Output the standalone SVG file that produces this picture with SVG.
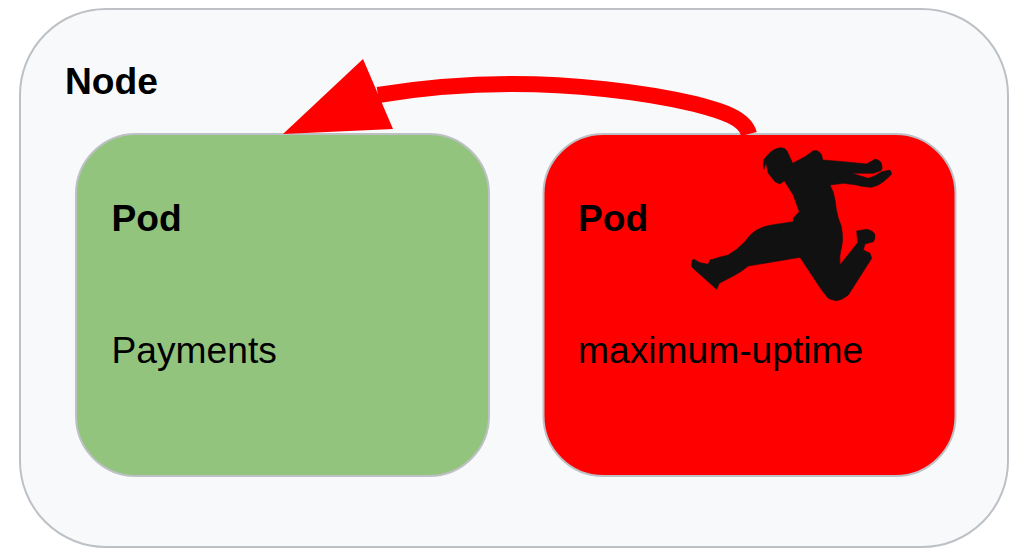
<svg xmlns="http://www.w3.org/2000/svg" width="1012" height="548" viewBox="0 0 1012 548">
<style>
text{font-family:"Liberation Sans",Arial,sans-serif;font-size:37.2px;fill:#000}
.b{font-weight:700}
.box{stroke:#bdc1c6;stroke-width:2}
</style>
<rect width="1012" height="548" fill="#fff"/>
<g id="node"><rect class="box" x="20" y="9" width="988" height="538" rx="86" ry="86" fill="#f8f9fa"/><text class="b" x="65" y="94">Node</text></g>
<g id="pod-payments"><rect class="box" x="76" y="134" width="413" height="342" rx="60" ry="60" fill="#93c47d"/><text class="b" x="111.500" y="231">Pod</text><text x="111.500" y="363">Payments</text></g>
<g id="pod-maximum-uptime"><rect class="box" x="543.500" y="134" width="412" height="342" rx="60" ry="60" fill="#f00"/><text class="b" x="578" y="231">Pod</text><text x="578" y="363">maximum-uptime</text>
<path id="jumper" fill="#111" stroke="#111" stroke-width=".6" stroke-linejoin="round" d="M764,169.300Q762,160 766,157Q772,149 780,147.700Q785,147.500 787,151L792.700,163.300L805,156.700L813,151Q818,149 821.700,155L822.700,160L843.300,161.700L866.700,164L875,159.300Q881,160 881.700,165Q883,169 880.700,170.700L873.300,173.300L851.700,173.300L868.300,178.300Q876,176 881.700,171.700L890,170L891.700,174Q888,178 883.300,181.700Q878,186 871.700,187.300Q862,187 856.700,185L843.300,183.300L830,185Q834,192 835,200Q836,210 838.300,218.300Q842,226 842.300,233.300Q843,240 841.700,246.700Q839,255 840,265L857.700,242.700L856.700,231L866.700,229.300Q874,231 875,235Q875,240 873.300,241.700L865,244L863.300,250L870,253.300L871.700,258.300L848.300,295Q842,300 836.700,300.700Q832,300 828.300,298.300Q822,291 818.300,285L800,257.300L748.300,266Q741,272 735,275L719.300,283.300L716.700,289.300L695,270Q690,266 691.700,263.300Q692,259 694,259.300L700,262.700L708.300,264.300L710,260Q720,257 728.300,255Q737,250 745,241.700Q750,234 756.700,230Q764,226 771.700,225L793.300,221.700L793.300,218.300L799.300,211.700L793.300,195L784.300,180.700L780,184L775,181.700L768.300,173.300L766,162.700Z"/></g>
<g id="connectors"><path d="M749,134C745,118 722,111 695,104C640,91 570,84 513,84C465,84 420,88 378,95" fill="none" stroke="#f00" stroke-width="16"/><polygon points="283,134 363,59 393,129" fill="#f00"/></g>
</svg>
